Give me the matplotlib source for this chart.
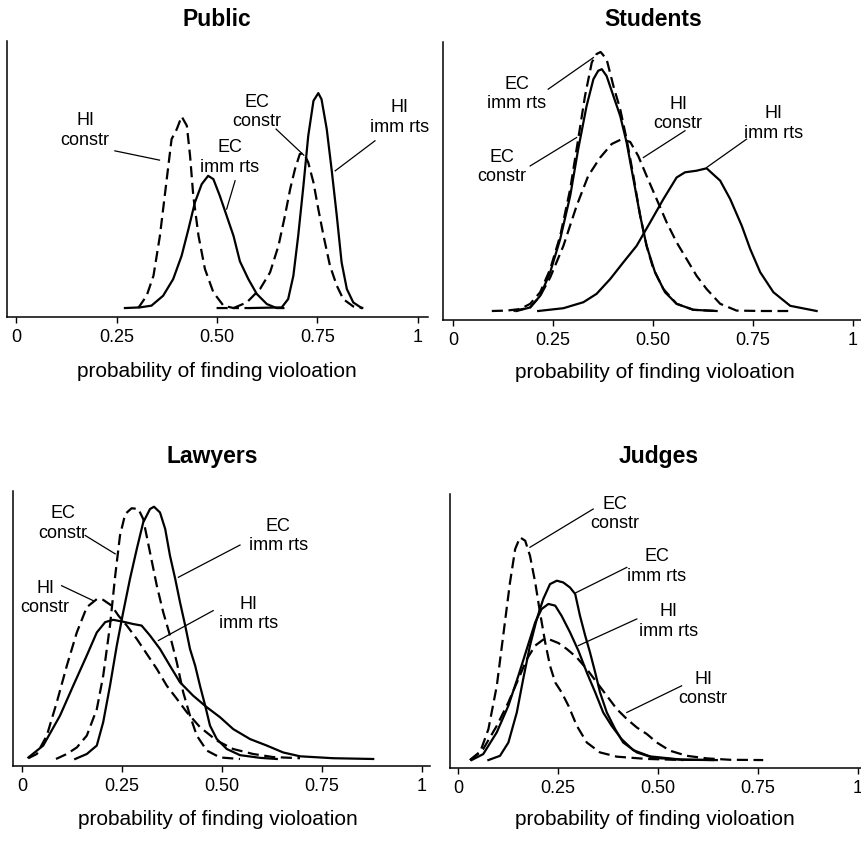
import matplotlib
matplotlib.use("Agg")
import matplotlib.pyplot as plt

plt.rcParams['font.family'] = ['Liberation Sans', 'DejaVu Sans']

tick_vals = [0, 0.25, 0.5, 0.75, 1]
tick_labels = ['0', '0.25', '0.50', '0.75', '1']
xlabel = 'probability of finding violoation'

# Public
pub_hi_constr_x = [0.304, 0.325, 0.342, 0.358, 0.375, 0.387, 0.400, 0.412, 0.425, 0.433, 0.441, 0.454, 0.470, 0.491, 0.516, 0.541, 0.58]
pub_hi_constr_y = [0, 0.77, 2.02, 4.52, 8.06, 10.56, 11.19, 11.98, 11.40, 9.52, 7.02, 4.52, 2.44, 0.98, 0.15, 0, 0]
pub_ec_imm_x = [0.271, 0.308, 0.337, 0.366, 0.391, 0.412, 0.429, 0.445, 0.462, 0.478, 0.491, 0.507, 0.524, 0.541, 0.557, 0.578, 0.599, 0.624, 0.648, 0.665]
pub_ec_imm_y = [0, 0.04, 0.15, 0.77, 1.81, 3.27, 4.94, 6.60, 7.75, 8.27, 8.06, 7.02, 5.77, 4.52, 2.92, 1.81, 0.88, 0.25, 0, 0]
pub_ec_constr_x = [0.499, 0.541, 0.574, 0.607, 0.632, 0.653, 0.669, 0.682, 0.694, 0.706, 0.716, 0.727, 0.740, 0.752, 0.765, 0.781, 0.798, 0.814, 0.839, 0.864]
pub_ec_constr_y = [0, 0, 0.35, 1.19, 2.23, 3.90, 5.77, 7.44, 8.69, 9.63, 9.69, 9.10, 7.85, 6.19, 4.52, 2.65, 1.40, 0.56, 0.10, 0]
pub_hi_imm_x = [0.582, 0.661, 0.677, 0.690, 0.702, 0.715, 0.727, 0.740, 0.752, 0.760, 0.773, 0.785, 0.798, 0.810, 0.823, 0.839, 0.860]
pub_hi_imm_y = [0, 0.04, 0.56, 2.02, 4.52, 7.65, 10.77, 12.96, 13.44, 13.06, 11.19, 8.69, 5.77, 2.85, 1.19, 0.35, 0]

# Students
stu_ec_constr_x = [0.097, 0.134, 0.168, 0.193, 0.218, 0.243, 0.268, 0.293, 0.313, 0.330, 0.347, 0.359, 0.369, 0.384, 0.401, 0.418, 0.434, 0.451, 0.468, 0.484, 0.501, 0.526, 0.559, 0.601, 0.659]
stu_ec_constr_y = [0, 0.01, 0.05, 0.18, 0.47, 1.05, 1.88, 3.05, 4.30, 5.38, 6.22, 6.43, 6.48, 6.30, 5.63, 5.05, 4.30, 3.38, 2.38, 1.63, 1.05, 0.55, 0.18, 0.03, 0]
stu_ec_imm_x = [0.159, 0.193, 0.218, 0.243, 0.268, 0.293, 0.313, 0.334, 0.351, 0.363, 0.372, 0.384, 0.401, 0.418, 0.434, 0.451, 0.468, 0.484, 0.505, 0.530, 0.559, 0.601, 0.659]
stu_ec_imm_y = [0, 0.09, 0.38, 0.97, 1.80, 2.88, 4.05, 5.13, 5.80, 6.01, 6.05, 5.88, 5.38, 4.88, 4.22, 3.30, 2.38, 1.63, 0.97, 0.47, 0.18, 0.03, 0]
stu_hi_constr_x = [0.151, 0.193, 0.218, 0.243, 0.276, 0.309, 0.338, 0.368, 0.397, 0.422, 0.443, 0.463, 0.484, 0.509, 0.534, 0.559, 0.584, 0.609, 0.634, 0.668, 0.709, 0.776, 0.838]
stu_hi_constr_y = [0, 0.09, 0.38, 0.84, 1.63, 2.63, 3.38, 3.84, 4.18, 4.30, 4.23, 3.88, 3.38, 2.80, 2.22, 1.72, 1.30, 0.88, 0.55, 0.18, 0.01, 0, 0]
stu_hi_imm_x = [0.213, 0.276, 0.326, 0.359, 0.393, 0.426, 0.459, 0.493, 0.526, 0.559, 0.580, 0.609, 0.634, 0.668, 0.693, 0.722, 0.743, 0.768, 0.801, 0.843, 0.909]
stu_hi_imm_y = [0, 0.07, 0.22, 0.43, 0.80, 1.22, 1.63, 2.22, 2.80, 3.34, 3.47, 3.51, 3.57, 3.26, 2.80, 2.13, 1.55, 0.97, 0.47, 0.13, 0]

# Lawyers
law_ec_constr_x = [0.085, 0.112, 0.137, 0.162, 0.187, 0.203, 0.220, 0.233, 0.245, 0.258, 0.274, 0.291, 0.303, 0.320, 0.337, 0.353, 0.370, 0.387, 0.403, 0.420, 0.437, 0.462, 0.495, 0.545]
law_ec_constr_y = [0, 0.13, 0.30, 0.61, 1.30, 2.17, 3.48, 4.78, 5.83, 6.39, 6.54, 6.52, 6.26, 5.39, 4.52, 3.83, 3.22, 2.52, 1.74, 1.13, 0.61, 0.22, 0.04, 0]
law_ec_imm_x = [0.133, 0.162, 0.187, 0.203, 0.220, 0.237, 0.253, 0.270, 0.287, 0.303, 0.320, 0.330, 0.345, 0.358, 0.370, 0.383, 0.395, 0.408, 0.420, 0.433, 0.445, 0.458, 0.470, 0.487, 0.512, 0.545, 0.595, 0.637]
law_ec_imm_y = [0, 0.13, 0.35, 0.96, 1.91, 2.96, 3.83, 4.70, 5.48, 6.17, 6.52, 6.58, 6.43, 6.00, 5.30, 4.70, 4.09, 3.48, 2.87, 2.43, 1.91, 1.39, 0.87, 0.52, 0.26, 0.10, 0.03, 0]
law_hi_constr_x = [0.016, 0.037, 0.062, 0.087, 0.112, 0.137, 0.162, 0.187, 0.203, 0.224, 0.241, 0.262, 0.287, 0.312, 0.337, 0.362, 0.387, 0.412, 0.445, 0.487, 0.528, 0.578, 0.628, 0.695]
law_hi_constr_y = [0.02, 0.13, 0.61, 1.48, 2.43, 3.30, 3.96, 4.17, 4.15, 4.00, 3.74, 3.48, 3.13, 2.74, 2.35, 1.91, 1.57, 1.22, 0.83, 0.48, 0.26, 0.13, 0.05, 0.02]
law_hi_imm_x = [0.016, 0.053, 0.095, 0.128, 0.162, 0.187, 0.208, 0.228, 0.253, 0.278, 0.299, 0.320, 0.345, 0.370, 0.395, 0.428, 0.462, 0.495, 0.528, 0.570, 0.612, 0.653, 0.695, 0.778, 0.878]
law_hi_imm_y = [0.04, 0.35, 1.13, 1.91, 2.70, 3.30, 3.57, 3.63, 3.58, 3.52, 3.48, 3.22, 2.87, 2.43, 2.00, 1.65, 1.35, 1.09, 0.78, 0.52, 0.35, 0.17, 0.07, 0.02, 0]

# Judges
jud_ec_constr_x = [0.030, 0.055, 0.076, 0.097, 0.113, 0.130, 0.143, 0.155, 0.168, 0.180, 0.193, 0.205, 0.218, 0.230, 0.243, 0.259, 0.276, 0.297, 0.322, 0.355, 0.397, 0.472, 0.563]
jud_ec_constr_y = [0, 0.27, 1.09, 2.62, 4.39, 6.27, 7.45, 7.86, 7.74, 7.21, 6.27, 5.21, 4.15, 3.33, 2.74, 2.39, 1.92, 1.21, 0.62, 0.27, 0.12, 0.04, 0]
jud_ec_imm_x = [0.076, 0.105, 0.126, 0.147, 0.163, 0.180, 0.197, 0.213, 0.230, 0.247, 0.263, 0.280, 0.293, 0.305, 0.318, 0.330, 0.343, 0.355, 0.372, 0.393, 0.413, 0.447, 0.488, 0.563, 0.647]
jud_ec_imm_y = [0, 0.15, 0.62, 1.68, 2.86, 4.04, 4.98, 5.68, 6.21, 6.33, 6.27, 6.09, 5.86, 5.09, 4.39, 3.80, 3.09, 2.39, 1.68, 1.09, 0.62, 0.27, 0.08, 0.01, 0]
jud_hi_imm_x = [0.034, 0.063, 0.097, 0.126, 0.151, 0.172, 0.193, 0.209, 0.226, 0.243, 0.259, 0.280, 0.301, 0.322, 0.343, 0.363, 0.384, 0.409, 0.438, 0.480, 0.555, 0.638]
jud_hi_imm_y = [0, 0.21, 0.98, 1.92, 2.98, 3.92, 4.86, 5.33, 5.51, 5.45, 5.09, 4.51, 3.86, 3.09, 2.39, 1.68, 1.21, 0.74, 0.35, 0.13, 0.02, 0]
jud_hi_constr_x = [0.030, 0.063, 0.097, 0.126, 0.151, 0.172, 0.193, 0.213, 0.230, 0.251, 0.272, 0.297, 0.322, 0.347, 0.372, 0.397, 0.422, 0.447, 0.472, 0.497, 0.530, 0.572, 0.622, 0.680, 0.763]
jud_hi_constr_y = [0, 0.39, 1.21, 2.04, 2.86, 3.56, 4.04, 4.25, 4.25, 4.13, 3.92, 3.62, 3.21, 2.74, 2.27, 1.80, 1.45, 1.15, 0.92, 0.62, 0.33, 0.15, 0.06, 0.01, 0]

W, H = 862, 845
fig = plt.figure(figsize=(W / 100, H / 100), dpi=100)

DASH = (0, (5, 2.5))


def make_axes(px_left, px_right, px_top, px_bottom, xlim, ylim):
    ax = fig.add_axes([px_left / W, 1 - px_bottom / H,
                       (px_right - px_left) / W, (px_bottom - px_top) / H])
    ax.set_xlim(*xlim)
    ax.set_ylim(*ylim)
    ax.spines['top'].set_visible(False)
    ax.spines['right'].set_visible(False)
    ax.spines['left'].set_linewidth(1.1)
    ax.spines['bottom'].set_linewidth(1.1)
    ax.set_yticks([])
    ax.set_xticks(tick_vals)
    ax.set_xticklabels(tick_labels)
    ax.tick_params(axis='x', direction='out', length=4, width=1, pad=4, labelsize=13)
    return ax


def curve(ax, x, y, dashed):
    ax.plot(x, y, color='black', lw=1.6, linestyle=DASH if dashed else '-',
            solid_joinstyle='round')


def label(ax, x, y, txt, x1, y1, x2, y2):
    ax.text(x, y, txt, ha='center', va='center', fontsize=13, linespacing=1.2)
    ax.plot([x1, x2], [y1, y2], color='black', lw=0.9)


# Public
ax1 = make_axes(7, 428, 42, 318, (-0.0224, 1.0249), (-0.56, 16.7))
curve(ax1, pub_hi_constr_x, pub_hi_constr_y, True)
curve(ax1, pub_ec_imm_x, pub_ec_imm_y, False)
curve(ax1, pub_ec_constr_x, pub_ec_constr_y, True)
curve(ax1, pub_hi_imm_x, pub_hi_imm_y, False)
label(ax1, 0.172, 11.15, 'HI\nconstr', 0.246, 9.83, 0.357, 9.25)
label(ax1, 0.532, 9.48, 'EC\nimm rts', 0.545, 7.96, 0.524, 6.19)
label(ax1, 0.599, 12.33, 'EC\nconstr', 0.647, 11.19, 0.716, 9.56)
label(ax1, 0.955, 11.98, 'HI\nimm rts', 0.893, 10.46, 0.794, 8.58)

# Students
ax2 = make_axes(443, 861, 43, 321, (-0.025, 1.02), (-0.225, 6.73))
curve(ax2, stu_ec_constr_x, stu_ec_constr_y, True)
curve(ax2, stu_ec_imm_x, stu_ec_imm_y, False)
curve(ax2, stu_hi_constr_x, stu_hi_constr_y, True)
curve(ax2, stu_hi_imm_x, stu_hi_imm_y, False)
label(ax2, 0.159, 5.45, 'EC\nimm rts', 0.238, 5.55, 0.351, 6.34)
label(ax2, 0.563, 4.95, 'HI\nconstr', 0.476, 3.84, 0.580, 4.51)
label(ax2, 0.122, 3.63, 'EC\nconstr', 0.193, 3.63, 0.309, 4.34)
label(ax2, 0.801, 4.72, 'HI\nimm rts', 0.634, 3.59, 0.734, 4.30)

# Lawyers
ax3 = make_axes(13, 430, 492, 767, (-0.0225, 1.02), (-0.183, 6.99))
curve(ax3, law_ec_constr_x, law_ec_constr_y, True)
curve(ax3, law_ec_imm_x, law_ec_imm_y, False)
curve(ax3, law_hi_constr_x, law_hi_constr_y, True)
curve(ax3, law_hi_imm_x, law_hi_imm_y, False)
label(ax3, 0.103, 6.17, 'EC\nconstr', 0.158, 5.83, 0.233, 5.35)
label(ax3, 0.641, 5.84, 'EC\nimm rts', 0.545, 5.58, 0.391, 4.74)
label(ax3, 0.0575, 4.22, 'HI\nconstr', 0.099, 4.52, 0.178, 4.13)
label(ax3, 0.566, 3.81, 'HI\nimm rts', 0.478, 3.87, 0.341, 3.09)

# Judges
ax4 = make_axes(450, 861, 495, 769, (-0.02, 1.0075), (-0.28, 9.39))
curve(ax4, jud_ec_constr_x, jud_ec_constr_y, True)
curve(ax4, jud_ec_imm_x, jud_ec_imm_y, False)
curve(ax4, jud_hi_imm_x, jud_hi_imm_y, False)
curve(ax4, jud_hi_constr_x, jud_hi_constr_y, True)
label(ax4, 0.3925, 8.72, 'EC\nconstr', 0.338, 8.86, 0.18, 7.51)
label(ax4, 0.497, 6.86, 'EC\nimm rts', 0.422, 6.80, 0.2925, 5.89)
label(ax4, 0.526, 4.92, 'HI\nimm rts', 0.447, 4.98, 0.301, 4.04)
label(ax4, 0.613, 2.54, 'HI\nconstr', 0.559, 2.62, 0.422, 1.68)

# titles and axis labels
for title, x, y in [('Public', 217, 19), ('Students', 653, 19),
                    ('Lawyers', 212, 456), ('Judges', 659, 456)]:
    fig.text(x / W, 1 - y / H, title, ha='center', va='center',
             fontsize=16.5, fontweight='bold')
for x, y in [(217, 372), (655, 373), (218, 820), (655, 820)]:
    fig.text(x / W, 1 - y / H, xlabel, ha='center', va='center', fontsize=15)

fig.savefig('out.png', dpi=100)
